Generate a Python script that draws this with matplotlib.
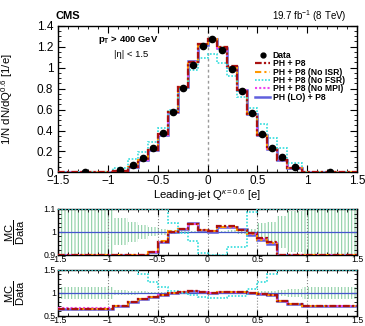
import numpy as np
import matplotlib
matplotlib.use('Agg')
import matplotlib.pyplot as plt
from matplotlib.lines import Line2D
from matplotlib.ticker import MultipleLocator, FuncFormatter

plt.rcParams['font.family'] = ['Liberation Sans', 'DejaVu Sans']
plt.rcParams['mathtext.fontset'] = 'custom'
plt.rcParams['mathtext.rm'] = 'Liberation Sans'
plt.rcParams['mathtext.it'] = 'Liberation Sans:italic'
plt.rcParams['mathtext.bf'] = 'Liberation Sans:bold'
plt.rcParams['hatch.linewidth'] = 0.8

# binning of the jet charge distribution
edges = np.array([-1.5, -0.95, -0.8, -0.7, -0.6, -0.5, -0.4, -0.3, -0.2, -0.1, 0.0,
                  0.1, 0.2, 0.3, 0.4, 0.5, 0.6, 0.7, 0.8, 0.95, 1.5])

# unfolded data, 1/N dN/dQ
data = np.array([0.003, 0.024, 0.069, 0.141, 0.236, 0.379, 0.573, 0.805, 1.021, 1.211,
                 1.271, 1.167, 0.989, 0.776, 0.564, 0.370, 0.236, 0.148, 0.052, 0.003])
# relative data uncertainty (half width of band around 1)
data_unc = np.array([0.13, 0.06, 0.045, 0.03, 0.02, 0.012, 0.008, 0.006, 0.005, 0.005,
                     0.005, 0.005, 0.006, 0.008, 0.012, 0.04, 0.045, 0.07, 0.09, 0.13])

# MC / data ratios
r_ph_p8 = np.array([0.65, 0.72, 0.79, 0.86, 0.91, 0.956, 1.0, 1.011, 1.034, 1.01,
                    1.003, 1.025, 1.025, 1.01, 0.995, 0.973, 0.956, 0.83, 0.76, 0.70])
r_no_isr = np.array([0.65, 0.72, 0.79, 0.86, 0.912, 0.958, 1.002, 1.012, 1.032, 1.008,
                     1.002, 1.022, 1.022, 1.008, 0.99, 0.965, 0.95, 0.83, 0.76, 0.70])
r_no_fsr = np.array([2.0, 1.9, 1.8, 1.40, 1.24, 1.13, 1.037, 0.993, 0.96, 0.905,
                     0.886, 0.895, 0.932, 0.932, 1.085, 1.24, 1.40, 1.6, 1.7, 2.0])
r_no_mpi = np.array([0.66, 0.72, 0.79, 0.86, 0.91, 0.955, 0.998, 1.012, 1.036, 1.01,
                     1.004, 1.02, 1.02, 1.01, 0.99, 0.968, 0.952, 0.83, 0.76, 0.70])
r_lo = np.array([0.64, 0.72, 0.79, 0.86, 0.91, 0.955, 1.0, 1.013, 1.038, 1.008,
                 1.0, 1.02, 1.02, 1.012, 0.988, 0.965, 0.945, 0.83, 0.76, 0.70])

labels = ['PH + P8', 'PH + P8 (No ISR)', 'PH + P8 (No FSR)', 'PH + P8 (No MPI)', 'PH (LO) + P8']

centers = 0.5 * (edges[:-1] + edges[1:])
widths = np.diff(edges)

mc = [
    (r_lo, dict(color='#6060dd', ls='-', lw=1.8), 4),
    (r_no_mpi, dict(color='#ee44ee', ls=(0, (1, 1)), lw=1.5), 3),
    (r_no_isr, dict(color='#ff9900', ls=(0, (3, 1.5, 1, 1.5)), lw=1.5), 1),
    (r_no_fsr, dict(color='#33dddd', ls=(0, (1, 1)), lw=1.2), 2),
    (r_ph_p8, dict(color='#aa1111', ls=(0, (3, 1, 1, 1)), lw=1.6), 0),
]


def fmt(v, pos):
    v = round(v, 3) + 0.0
    return ('%g' % v).replace('-', '\u2212')


def style_axes(ax, fs, major_len, minor_len):
    ax.tick_params(which='both', direction='in', top=True, right=True, labelsize=fs)
    ax.tick_params(which='major', length=major_len, width=0.8)
    ax.tick_params(which='minor', length=minor_len, width=0.6)
    ax.xaxis.set_major_locator(MultipleLocator(0.5))
    ax.xaxis.set_minor_locator(MultipleLocator(0.1))
    ax.xaxis.set_major_formatter(FuncFormatter(fmt))
    ax.yaxis.set_major_formatter(FuncFormatter(fmt))
    for s in ax.spines.values():
        s.set_linewidth(1.0)
    ax.set_xlim(-1.5, 1.5)


fig = plt.figure(figsize=(3.65, 3.26), dpi=100)
ax = fig.add_axes([0.159, 0.471, 0.819, 0.450])
r1 = fig.add_axes([0.159, 0.219, 0.819, 0.140])
r2 = fig.add_axes([0.159, 0.032, 0.819, 0.140])

# main panel
style_axes(ax, 8.5, 5, 2.5)
ax.set_ylim(0, 1.4)
ax.yaxis.set_major_locator(MultipleLocator(0.2))
ax.yaxis.set_minor_locator(MultipleLocator(0.05))
ax.axvline(0, color='#999999', ls=(0, (2, 2)), lw=1.0, zorder=1)
for r, st, k in mc:
    ax.stairs(r * data, edges, baseline=None, zorder=3, **st)
ax.plot(centers, data, 'o', color='k', ms=4.5, zorder=5)
ax.set_xlabel(r'Leading-jet Q$^{\kappa=0.6}$ [e]', fontsize=8.2, labelpad=0)
ax.set_ylabel(r'1/N dN/dQ$^{0.6}$ [1/e]', fontsize=8.2)
ax.yaxis.set_label_coords(-0.145, 0.5)
ax.tick_params(axis='x', pad=2)

handles = [Line2D([], [], ls='none', marker='o', color='k', ms=3.5)]
hl = [None] * 5
for r, st, k in mc:
    hl[k] = Line2D([], [], **st)
handles += hl
fig.legend(handles, ['Data'] + labels, loc='upper left', bbox_to_anchor=(0.700, 0.843),
           frameon=False, prop={'size': 6.2, 'weight': 'bold'}, handlelength=1.7,
           handletextpad=0.3, labelspacing=-0.08, borderpad=0, borderaxespad=0)

fig.text(0.151, 0.951, 'CMS', fontsize=8, fontweight='bold', ha='left', va='center')
fig.text(0.951, 0.951, r'19.7 fb$^{-1}$ (8 TeV)', fontsize=7, ha='right', va='center')
fig.text(0.351, 0.877, r'$\mathbf{p}_{\mathbf{T}}$ > 400 GeV', fontsize=6.8, fontweight='bold',
         ha='center', va='center')
fig.text(0.359, 0.834, '|\u03b7| < 1.5', fontsize=6.8, ha='center', va='center')

# ratio panels
for rax, lo, hi, minor in [(r1, 0.9, 1.1, 0.02), (r2, 0.5, 1.5, 0.1)]:
    style_axes(rax, 6.3, 4, 2)
    rax.set_ylim(lo, hi)
    rax.set_yticks([lo, 1.0, hi])
    rax.yaxis.set_minor_locator(MultipleLocator(minor))
    rax.tick_params(axis='x', pad=0.5)
    rax.tick_params(axis='y', pad=1.5)
    rax.grid(axis='x', which='major', ls=':', color='#888888', lw=0.8)
    rax.bar(centers, 2 * data_unc, bottom=1 - data_unc, width=widths, align='center',
            hatch='|||||', facecolor='none', edgecolor='#8ccfa5', linewidth=0, zorder=1)
    rax.axhline(1.0, color='#4455cc', lw=0.9, zorder=2)
    for r, st, k in mc:
        rax.stairs(np.clip(r, lo, hi), edges, baseline=None, zorder=3, **st)
    rax.set_ylabel(r'$\dfrac{\mathrm{MC}}{\mathrm{Data}}$', fontsize=8)
    rax.yaxis.set_label_coords(-0.104, 0.5)

fig.savefig('out.png', dpi=100)
